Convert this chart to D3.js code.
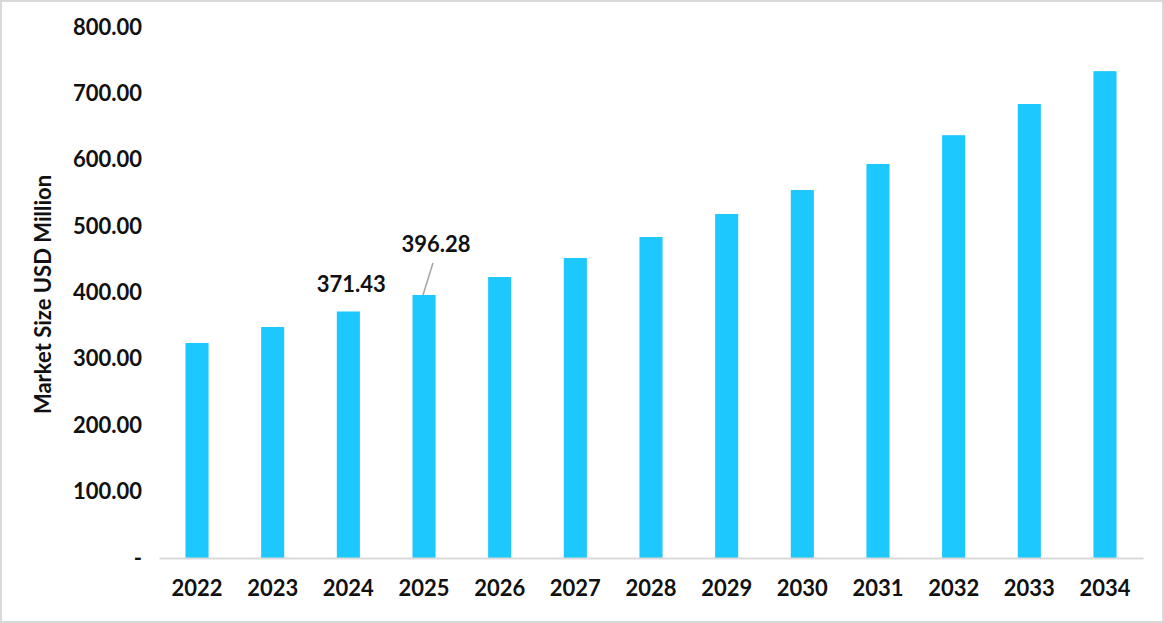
<!DOCTYPE html>
<html>
<head>
<meta charset="utf-8">
<script src="https://cdn.jsdelivr.net/npm/d3@7"></script>
<style>
  html, body { margin: 0; padding: 0; background: #fff; }
  svg { display: block; font-family: Lato, "Open Sans", sans-serif; }
</style>
</head>
<body>
<div id="app"></div>
<script>
const years = ["2022", "2023", "2024", "2025", "2026", "2027", "2028", "2029", "2030", "2031", "2032", "2033", "2034"];
const marketSize = [323.9, 348.0, 371.43, 396.28, 423.3, 452.0, 483.6, 518.3, 554.4, 593.6, 637.0, 684.0, 733.5];
const yTicks = [0, 100, 200, 300, 400, 500, 600, 700, 800];

const w = 1164,
      h = 623;
const margin = { top: 27, right: 21, bottom: 65, left: 159 };
const fontSize = 22;

const svg = d3.select("#app")
  .append("svg")
  .attr("width", w)
  .attr("height", h);

// outer border
svg.append("rect")
  .attr("x", 1)
  .attr("y", 1)
  .attr("width", w - 2)
  .attr("height", h - 2)
  .attr("fill", "#fff")
  .attr("stroke", "#d9d9d9")
  .attr("stroke-width", 2);

const xScale = d3.scaleBand()
  .domain(years)
  .range([margin.left, w - margin.right])
  .paddingInner(0.695)
  .paddingOuter(0.35);

const yScale = d3.scaleLinear()
  .domain([0, 800])
  .range([h - margin.bottom, margin.top]);

const yAxis = d3.axisLeft(yScale)
  .tickValues(yTicks)
  .tickSize(0)
  .tickPadding(17)
  .tickFormat(d => d === 0 ? "-" : d3.format(".2f")(d));

const gy = svg.append("g")
  .attr("id", "y-axis")
  .attr("transform", `translate(${margin.left}, 0)`)
  .call(yAxis);
gy.select(".domain").remove();
gy.selectAll("text")
  .attr("font-size", fontSize)
  .attr("font-weight", "bold")
  .attr("fill", "#111")
  .attr("font-family", "Lato, sans-serif");

// bars
svg.selectAll("rect.bar")
  .data(years)
  .enter()
  .append("rect")
  .attr("class", "bar")
  .attr("x", d => xScale(d))
  .attr("y", (d, i) => yScale(marketSize[i]))
  .attr("width", xScale.bandwidth())
  .attr("height", (d, i) => yScale(0) - yScale(marketSize[i]))
  .attr("fill", "#1cc8fd");

const xAxis = d3.axisBottom(xScale)
  .tickSize(0)
  .tickPadding(22);

const gx = svg.append("g")
  .attr("id", "x-axis")
  .attr("transform", `translate(0, ${yScale(0)})`)
  .call(xAxis);
gx.select(".domain")
  .attr("stroke", "#d9d9d9")
  .attr("stroke-width", 2);
gx.selectAll("text")
  .attr("font-size", fontSize)
  .attr("font-weight", "bold")
  .attr("fill", "#111")
  .attr("font-family", "Lato, sans-serif");

// y label
svg.append("text")
  .attr("id", "y-label")
  .attr("text-anchor", "middle")
  .attr("transform", `translate(51, ${(margin.top + h - margin.bottom) / 2 + 2}) rotate(-90)`)
  .attr("font-size", fontSize)
  .attr("font-weight", "bold")
  .attr("fill", "#111")
  .text("Market Size USD Million");

// data labels
const i24 = years.indexOf("2024");
svg.append("text")
  .attr("text-anchor", "middle")
  .attr("x", xScale("2024") + xScale.bandwidth() / 2 + 3)
  .attr("y", yScale(marketSize[i24]) - 19)
  .attr("font-size", fontSize)
  .attr("font-weight", "bold")
  .attr("fill", "#111")
  .text(marketSize[i24].toFixed(2));

const i25 = years.indexOf("2025");
const cx25 = xScale("2025") + xScale.bandwidth() / 2;
svg.append("line")
  .attr("x1", cx25 - 1)
  .attr("y1", yScale(marketSize[i25]))
  .attr("x2", cx25 + 9)
  .attr("y2", yScale(marketSize[i25]) - 32)
  .attr("stroke", "#a6a6a6")
  .attr("stroke-width", 1.5);
svg.append("text")
  .attr("text-anchor", "middle")
  .attr("x", cx25 + 12)
  .attr("y", yScale(marketSize[i25]) - 43)
  .attr("font-size", fontSize)
  .attr("font-weight", "bold")
  .attr("fill", "#111")
  .text(marketSize[i25].toFixed(2));
</script>
</body>
</html>
